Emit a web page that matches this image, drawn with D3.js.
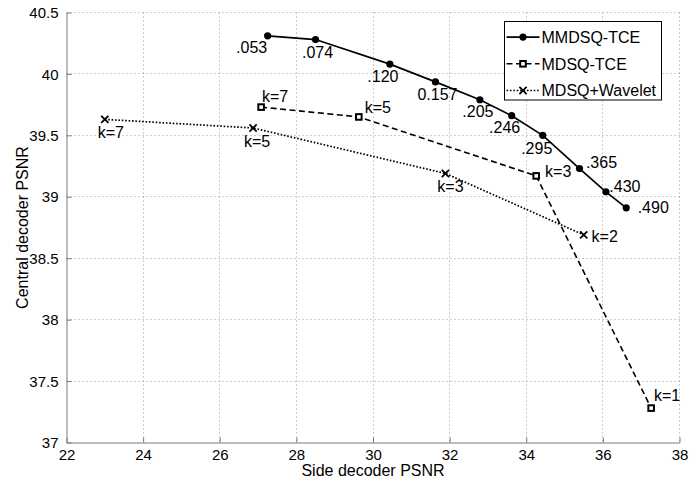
<!DOCTYPE html>
<html>
<head>
<meta charset="utf-8">
<script src="https://cdn.jsdelivr.net/npm/d3@7"></script>
<style>
  body { margin: 0; background: #fff; }
  text { font-family: "Liberation Sans", Arial, sans-serif; fill: #000; }
</style>
</head>
<body>
<svg id="chart" width="700" height="481"></svg>
<script>
// values
var mmdsqX = [27.25, 28.50, 30.44, 31.63, 32.79, 33.62, 34.43, 35.39, 36.08, 36.61];
var mmdsqY = [40.31, 40.28, 40.08, 39.935, 39.79, 39.66, 39.50, 39.23, 39.04, 38.91];
var mmdsqLabels = [".053", ".074", ".120", "0.157", ".205", ".246", ".295", ".365", ".430", ".490"];

var mdsqX = [27.08, 29.63, 34.26, 37.26];
var mdsqY = [39.73, 39.65, 39.17, 37.28];
var mdsqLabels = ["k=7", "k=5", "k=3", "k=1"];

var waveX = [23.0, 26.87, 31.89, 35.50];
var waveY = [39.63, 39.56, 39.19, 38.69];
var waveLabels = ["k=7", "k=5", "k=3", "k=2"];

var xTicks = [22, 24, 26, 28, 30, 32, 34, 36, 38];
var yTicks = [37, 37.5, 38, 38.5, 39, 39.5, 40, 40.5];

var seriesNames = ["MMDSQ-TCE", "MDSQ-TCE", "MDSQ+Wavelet"];

// label offsets (px) for the point annotations
var mmdsqOff = [[-16, 12], [2, 13], [-7, 12], [2, 12], [-2, 12], [-7, 12], [-6, 13], [22, -6], [19, -5], [27, 0]];
var mdsqOff = [[14, -11], [19, -10], [22, -5], [16, -13]];
var waveOff = [[6, 13], [4, 13], [5, 13], [21, 2]];

var svg = d3.select("#chart");
var margin = {left: 66.5, right: 700 - 679.5, top: 12.5, bottom: 481 - 442.5};
var W = 700 - margin.left - margin.right;
var H = 481 - margin.top - margin.bottom;

var g = svg.append("g").attr("transform", "translate(" + margin.left + "," + margin.top + ")");

var x = d3.scaleLinear().domain([22, 38]).range([0, W]);
var y = d3.scaleLinear().domain([37, 40.5]).range([H, 0]);

function px(v) { return Math.round(v); }

// grid, dotted like matlab
g.append("g").selectAll("line").data(xTicks.slice(1)).enter().append("line")
  .attr("x1", function(d){ return px(x(d)); }).attr("x2", function(d){ return px(x(d)); })
  .attr("y1", 0).attr("y2", H)
  .attr("stroke", "#999").attr("stroke-width", 1).attr("stroke-dasharray", "1,3");
g.append("g").selectAll("line").data(yTicks.slice(1)).enter().append("line")
  .attr("y1", function(d){ return px(y(d)); }).attr("y2", function(d){ return px(y(d)); })
  .attr("x1", 0).attr("x2", W)
  .attr("stroke", "#999").attr("stroke-width", 1).attr("stroke-dasharray", "1,3");

// axes
var xAxis = d3.axisBottom(x).tickValues(xTicks).tickSizeInner(-5).tickSizeOuter(0).tickPadding(9);
var yAxis = d3.axisLeft(y).tickValues(yTicks).tickSizeInner(-5).tickSizeOuter(0).tickPadding(8)
  .tickFormat(function(d){ return d3.format("")(d); });

var gx = g.append("g").attr("transform", "translate(0," + H + ")").call(xAxis);
var gy = g.append("g").call(yAxis);
[gx, gy].forEach(function(a){
  a.select(".domain").attr("stroke", "#7a7a7a");
  a.selectAll(".tick line").attr("stroke", "#7a7a7a");
  a.selectAll(".tick text").style("font-size", "15px").style("font-family", "Liberation Sans, Arial, sans-serif").attr("fill", "#000");
});
gx.selectAll(".tick text").attr("dy", "0.55em");
gy.selectAll(".tick text").attr("dy", "0.34em");

// axis titles
svg.append("text").attr("x", margin.left + W / 2).attr("y", 476)
  .attr("text-anchor", "middle").style("font-size", "16px").text("Side decoder PSNR");
svg.append("text").attr("transform", "translate(28," + (margin.top + H / 2) + ") rotate(-90)")
  .attr("text-anchor", "middle").style("font-size", "16px").text("Central decoder PSNR");

function pts(xs, ys) { return xs.map(function(v, i){ return [v, ys[i]]; }); }
var line = d3.line().x(function(d){ return x(d[0]); }).y(function(d){ return y(d[1]); });

var styles = [
  {data: pts(mmdsqX, mmdsqY), dash: null, width: 1.7, marker: "circle", labels: mmdsqLabels, off: mmdsqOff},
  {data: pts(mdsqX, mdsqY), dash: "6,3.5", width: 1.6, marker: "square", labels: mdsqLabels, off: mdsqOff},
  {data: pts(waveX, waveY), dash: "1.6,1.8", width: 1.7, marker: "cross", labels: waveLabels, off: waveOff}
];

function drawMarker(sel, type, cx, cy) {
  if (type === "circle") {
    sel.append("circle").attr("cx", cx).attr("cy", cy).attr("r", 3.6).attr("fill", "#000");
  } else if (type === "square") {
    sel.append("rect").attr("x", cx - 2.8).attr("y", cy - 2.8).attr("width", 5.6).attr("height", 5.6)
      .attr("fill", "#fff").attr("stroke", "#000").attr("stroke-width", 2);
  } else {
    var s = 3.6;
    sel.append("path").attr("d", "M" + (cx - s) + "," + (cy - s) + "L" + (cx + s) + "," + (cy + s) +
      "M" + (cx - s) + "," + (cy + s) + "L" + (cx + s) + "," + (cy - s))
      .attr("stroke", "#000").attr("stroke-width", 1.8).attr("fill", "none");
  }
}

styles.forEach(function(s){
  g.append("path").datum(s.data).attr("d", line)
    .attr("fill", "none").attr("stroke", "#000").attr("stroke-width", s.width)
    .attr("stroke-dasharray", s.dash);
  var mg = g.append("g");
  s.data.forEach(function(d){ drawMarker(mg, s.marker, x(d[0]), y(d[1])); });
  g.append("g").selectAll("text").data(s.data).enter().append("text")
    .attr("x", function(d, i){ return x(d[0]) + s.off[i][0]; })
    .attr("y", function(d, i){ return y(d[1]) + s.off[i][1]; })
    .attr("text-anchor", "middle").attr("dy", "0.35em")
    .style("font-size", "16px")
    .text(function(d, i){ return s.labels[i]; });
});

// legend
var lg = svg.append("g").attr("transform", "translate(504.5,21.5)");
lg.append("rect").attr("width", 157).attr("height", 78.5)
  .attr("fill", "#fff").attr("stroke", "#000").attr("stroke-width", 1);
seriesNames.forEach(function(name, i){
  var ly = 15.6 + i * 26.7;
  lg.append("line").attr("x1", 2).attr("x2", 35).attr("y1", ly).attr("y2", ly)
    .attr("stroke", "#000").attr("stroke-width", styles[i].width)
    .attr("stroke-dasharray", styles[i].dash);
  drawMarker(lg, styles[i].marker, 18.5, ly);
  lg.append("text").attr("x", 37).attr("y", ly).attr("dy", "0.36em")
    .style("font-size", "16px").text(name);
});
</script>
</body>
</html>
